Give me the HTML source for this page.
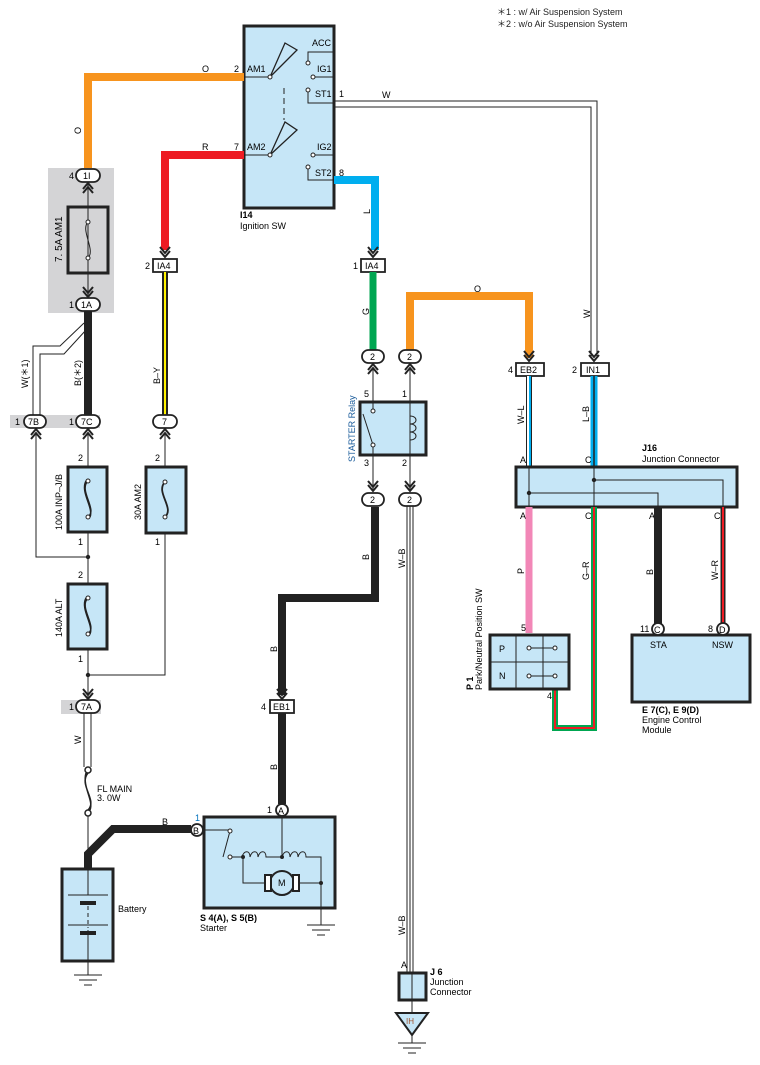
<!DOCTYPE html>
<html><head><meta charset="utf-8"><style>
html,body{margin:0;padding:0;background:#fff;width:760px;height:1065px;overflow:hidden}
svg{display:block;font-family:"Liberation Sans",sans-serif;font-size:9px}
.bx{fill:#c6e6f7;stroke:#222;stroke-width:3}
.tn{fill:none;stroke:#222;stroke-width:1}
.cn{fill:#fff;stroke:#222;stroke-width:1.8}
</style></head><body>
<svg width="760" height="1065" viewBox="0 0 760 1065" xmlns="http://www.w3.org/2000/svg">
<defs>
<g id="arrUp"><path d="M-5,7 L0,1 L5,7 M-5,11 L0,5 L5,11" fill="none" stroke="#222" stroke-width="2"/></g>
<g id="arrDn"><path d="M-5,-7 L0,-1 L5,-7 M-5,-11 L0,-5 L5,-11" fill="none" stroke="#222" stroke-width="2"/></g>
</defs>
<text x="497" y="15" fill="#222">＊1 : w/ Air Suspension System</text>
<text x="497" y="27" fill="#222">＊2 : w/o Air Suspension System</text>

<!-- gray shaded areas -->
<rect x="48" y="168" width="66" height="145" fill="#d4d4d6"/>
<rect x="10" y="415" width="90" height="13" fill="#d4d4d6"/>
<rect x="61" y="700" width="40" height="14" fill="#d4d4d6"/>

<!-- Ignition switch -->
<rect x="244" y="26" width="90" height="182" class="bx"/>
<text x="312" y="46">ACC</text><text x="317" y="72">IG1</text><text x="315" y="97">ST1</text>
<text x="247" y="72">AM1</text><text x="247" y="150">AM2</text>
<text x="317" y="150">IG2</text><text x="315" y="176">ST2</text>
<text x="234" y="72">2</text><text x="234" y="150">7</text><text x="339" y="97">1</text><text x="339" y="176">8</text>
<path d="M244,77H269 M244,155H269" class="tn"/>
<path d="M270,77 L285,43 L297,50 Z M270,155 L285,122 L297,130 Z" fill="none" stroke="#222" stroke-width="1.3"/>
<path d="M284,88V120" stroke="#222" stroke-dasharray="6,4"/>
<circle cx="270" cy="77" r="2" fill="#fff" stroke="#222"/><circle cx="270" cy="155" r="2" fill="#fff" stroke="#222"/>
<path d="M308,63V52H334 M313,77H334 M308,90V103H334 M313,155H334 M308,167V180H334" class="tn"/>
<g fill="#fff" stroke="#222"><circle cx="308" cy="63" r="2"/><circle cx="313" cy="77" r="2"/><circle cx="308" cy="90" r="2"/><circle cx="313" cy="155" r="2"/><circle cx="308" cy="167" r="2"/></g>
<text x="240" y="218" font-weight="bold">I14</text><text x="240" y="229">Ignition SW</text>

<!-- Orange AM1 wire -->
<path d="M244,77H88V168" fill="none" stroke="#f7941e" stroke-width="8"/>
<text x="202" y="72">O</text><text x="81" y="134" transform="rotate(-90 81 134)">O</text>
<!-- Red AM2 -->
<path d="M244,155H165V250" fill="none" stroke="#ed1c24" stroke-width="8"/>
<text x="202" y="150">R</text>
<use href="#arrDn" x="165" y="258"/>
<!-- Blue L -->
<path d="M334,180H375V250" fill="none" stroke="#00aeef" stroke-width="8"/>
<text x="370" y="214" transform="rotate(-90 370 214)">L</text>
<use href="#arrDn" x="373" y="258"/>
<!-- W from ST1 -->
<path d="M334,101H597V358 M334,107H591V358" class="tn"/>
<text x="382" y="98">W</text><text x="590" y="318" transform="rotate(-90 590 318)">W</text>
<use href="#arrDn" x="594" y="362"/>

<!-- 1I connector & AM1 fuse -->
<rect x="76" y="169" width="24" height="13" rx="6.5" class="cn"/><text x="83" y="179">1I</text><text x="69" y="179">4</text>
<use href="#arrUp" x="88" y="182"/>
<path d="M88,184V297" class="tn"/>
<rect x="68" y="207" width="40" height="66" fill="none" stroke="#222" stroke-width="3"/>
<path d="M88,222 C80,230 96,250 88,258" class="tn"/>
<circle cx="88" cy="222" r="2" fill="#fff" stroke="#222"/><circle cx="88" cy="258" r="2" fill="#fff" stroke="#222"/>
<text x="62" y="262" transform="rotate(-90 62 262)" font-size="10">7. 5A AM1</text>
<use href="#arrDn" x="88" y="298"/>
<rect x="76" y="298" width="24" height="13" rx="6.5" class="cn"/><text x="81" y="308">1A</text><text x="69" y="308">1</text>

<!-- B(*2) and W(*1) -->
<path d="M88,311V415" stroke="#222" stroke-width="8"/>
<text x="81" y="386" transform="rotate(-90 81 386)">B(＊2)</text>
<path d="M84,323 L60,346H33V415 M86,330 L64,354H40V415" class="tn"/>
<text x="28" y="388" transform="rotate(-90 28 388)">W(＊1)</text>
<rect x="24" y="415" width="22" height="13" rx="6.5" class="cn"/><text x="28" y="425">7B</text><text x="15" y="425">1</text>
<rect x="76" y="415" width="24" height="13" rx="6.5" class="cn"/><text x="81" y="425">7C</text><text x="69" y="425">1</text>
<use href="#arrUp" x="36" y="428"/><use href="#arrUp" x="88" y="428"/>
<path d="M36,432V557H88 M88,432V700" class="tn"/>
<circle cx="88" cy="557" r="2.2" fill="#222"/>

<!-- 100A INP-J/B -->
<rect x="68" y="467" width="39" height="65" class="bx"/>
<path d="M88,481 C78,490 98,510 88,517 M86,481 C80,492 94,508 90,517" fill="none" stroke="#222" stroke-width="1.5"/>
<circle cx="88" cy="481" r="2" fill="#fff" stroke="#222"/><circle cx="88" cy="517" r="2" fill="#fff" stroke="#222"/>
<text x="62" y="530" transform="rotate(-90 62 530)">100A INP–J/B</text>
<text x="78" y="461">2</text><text x="78" y="545">1</text>
<!-- 140A ALT -->
<rect x="68" y="584" width="39" height="65" class="bx"/>
<path d="M88,598 C78,607 98,627 88,634 M86,598 C80,609 94,625 90,634" fill="none" stroke="#222" stroke-width="1.5"/>
<circle cx="88" cy="598" r="2" fill="#fff" stroke="#222"/><circle cx="88" cy="634" r="2" fill="#fff" stroke="#222"/>
<text x="62" y="637" transform="rotate(-90 62 637)">140A ALT</text>
<text x="78" y="578">2</text><text x="78" y="662">1</text>
<circle cx="88" cy="675" r="2.2" fill="#222"/>
<path d="M88,675H165V432" class="tn"/>

<!-- B-Y and 30A AM2 -->
<rect x="153" y="259" width="24" height="13" fill="#fff" stroke="#222" stroke-width="1.8"/><text x="157" y="269">IA4</text><text x="145" y="269">2</text>
<path d="M165,272V415" stroke="#222" stroke-width="6"/><path d="M165,272V415" stroke="#fff200" stroke-width="2"/>
<text x="160" y="384" transform="rotate(-90 160 384)">B–Y</text>
<rect x="153" y="415" width="24" height="13" rx="6.5" class="cn"/><text x="162" y="425">7</text>
<use href="#arrUp" x="165" y="428"/>
<rect x="146" y="467" width="40" height="66" class="bx"/>
<path d="M165,482 C155,492 175,508 165,517" fill="none" stroke="#222" stroke-width="1.8"/>
<circle cx="165" cy="482" r="2" fill="#fff" stroke="#222"/><circle cx="165" cy="517" r="2" fill="#fff" stroke="#222"/>
<text x="141" y="520" transform="rotate(-90 141 520)">30A AM2</text>
<text x="155" y="461">2</text><text x="155" y="545">1</text>

<!-- 7A, W, FL MAIN -->
<use href="#arrDn" x="88" y="700"/>
<rect x="76" y="700" width="24" height="13" rx="6.5" class="cn"/><text x="81" y="710">7A</text><text x="69" y="710">1</text>
<path d="M84,713V767 M91,713V767" class="tn"/>
<text x="81" y="744" transform="rotate(-90 81 744)">W</text>
<circle cx="88" cy="770" r="3" fill="#fff" stroke="#222" stroke-width="1.5"/><circle cx="88" cy="813" r="3" fill="#fff" stroke="#222" stroke-width="1.5"/>
<path d="M88,773 C78,785 98,800 88,810 M86,773 C82,787 94,800 90,810" fill="none" stroke="#222" stroke-width="1.5"/>
<text x="97" y="792">FL MAIN</text><text x="97" y="801">3. 0W</text>
<path d="M88,816V852" class="tn"/>
<path d="M88,868V854 L113,829H191" fill="none" stroke="#222" stroke-width="8"/>
<text x="162" y="825">B</text>

<!-- Battery -->
<rect x="62" y="869" width="51" height="92" class="bx"/>
<path d="M88,869V895 M68,895H108 M68,925H108 M88,930V961 M88,961V975 M74,975H102 M79,980H97 M84,985H92" class="tn"/>
<rect x="80" y="901" width="16" height="4" fill="#222"/><rect x="80" y="931" width="16" height="4" fill="#222"/>
<path d="M88,906V928" stroke="#222" stroke-dasharray="4,3"/>
<text x="118" y="912">Battery</text>

<!-- Starter -->
<rect x="204" y="817" width="131" height="91" class="bx"/>
<circle cx="197" cy="830" r="6" class="cn"/><text x="193" y="834">B</text><text x="195" y="821" fill="#0072bc">1</text>
<circle cx="282" cy="810" r="6" class="cn"/><text x="278" y="814">A</text><text x="267" y="813">1</text>
<path d="M203,830H230 M223,857 L230,831 M230,857H242 M242,857 C244,850 250,850 250,857 C252,850 258,850 258,857 C260,850 266,850 266,857 L282,857 M282,816V857 M282,857 C284,850 290,850 290,857 C292,850 298,850 298,857 C300,850 306,850 306,857 L321,857V883 M243,857V883H265 M281,883H321 M321,883V925 M307,925H335 M312,930H330 M317,935H325" class="tn"/>
<circle cx="230" cy="831" r="2" fill="#fff" stroke="#222"/><circle cx="230" cy="857" r="2" fill="#fff" stroke="#222"/>
<circle cx="243" cy="857" r="2" fill="#222"/><circle cx="282" cy="857" r="2" fill="#222"/><circle cx="321" cy="883" r="2" fill="#222"/>
<circle cx="282" cy="883" r="12" fill="#c6e6f7" stroke="#222" stroke-width="2"/>
<rect x="265" y="875" width="6" height="16" fill="#fff" stroke="#222" stroke-width="2"/><rect x="293" y="875" width="6" height="16" fill="#fff" stroke="#222" stroke-width="2"/>
<text x="278" y="886">M</text>
<text x="200" y="921" font-weight="bold">S 4(A), S 5(B)</text><text x="200" y="931">Starter</text>
<path d="M282,710V804" stroke="#222" stroke-width="8"/>
<text x="277" y="770" transform="rotate(-90 277 770)">B</text>

<!-- Black B from relay -->
<path d="M375,507V598H282V695" fill="none" stroke="#222" stroke-width="8"/>
<text x="369" y="560" transform="rotate(-90 369 560)">B</text>
<text x="277" y="652" transform="rotate(-90 277 652)">B</text>
<use href="#arrDn" x="282" y="700"/>
<rect x="270" y="700" width="24" height="13" fill="#fff" stroke="#222" stroke-width="1.8"/><text x="273" y="710">EB1</text><text x="261" y="710">4</text>

<!-- IA4 green -->
<rect x="361" y="259" width="24" height="13" fill="#fff" stroke="#222" stroke-width="1.8"/><text x="365" y="269">IA4</text><text x="353" y="269">1</text>
<path d="M373,272V350" stroke="#00a651" stroke-width="7"/>
<text x="369" y="315" transform="rotate(-90 369 315)">G</text>
<path d="M410,350V296H529V358" fill="none" stroke="#f7941e" stroke-width="8"/>
<text x="474" y="292">O</text>
<use href="#arrDn" x="529" y="362"/>
<!-- relay connectors -->
<rect x="362" y="350" width="22" height="13" rx="6.5" class="cn"/><text x="370" y="360">2</text>
<rect x="399" y="350" width="22" height="13" rx="6.5" class="cn"/><text x="407" y="360">2</text>
<use href="#arrUp" x="373" y="363"/><use href="#arrUp" x="410" y="363"/>
<rect x="360" y="402" width="66" height="53" class="bx"/>
<path d="M373,367V412 M373,445V490 M410,367V490 M363,414 L373,445" class="tn"/>
<circle cx="373" cy="411" r="2" fill="#fff" stroke="#222"/><circle cx="373" cy="445" r="2" fill="#fff" stroke="#222"/>
<path d="M410,416 C418,416 418,424 410,424 C418,424 418,432 410,432 C418,432 418,440 410,440" class="tn"/>
<text x="364" y="397">5</text><text x="402" y="397">1</text><text x="364" y="466">3</text><text x="402" y="466">2</text>
<text x="355" y="462" transform="rotate(-90 355 462)" fill="#1b5c9b">STARTER Relay</text>
<use href="#arrDn" x="373" y="492"/><use href="#arrDn" x="410" y="492"/>
<rect x="362" y="493" width="22" height="13" rx="6.5" class="cn"/><text x="370" y="503">2</text>
<rect x="399" y="493" width="22" height="13" rx="6.5" class="cn"/><text x="407" y="503">2</text>
<!-- W-B -->
<path d="M407,506V972 M410,506V972 M413,506V972" class="tn"/>
<text x="405" y="568" transform="rotate(-90 405 568)">W–B</text>
<text x="405" y="935" transform="rotate(-90 405 935)">W–B</text>
<text x="401" y="968">A</text>
<rect x="399" y="973" width="27" height="27" class="bx"/>
<path d="M412,973V1013" class="tn"/>
<text x="430" y="975" font-weight="bold">J 6</text><text x="430" y="985">Junction</text><text x="430" y="995">Connector</text>
<path d="M396,1013H428L412,1035Z" fill="#c6e6f7" stroke="#222" stroke-width="2"/>
<text x="406" y="1024" fill="#a0522d" font-size="8">IH</text>
<path d="M412,1035V1043 M398,1043H426 M403,1048H421 M408,1053H416" class="tn"/>

<!-- EB2 / IN1 -->
<rect x="516" y="363" width="28" height="13" fill="#fff" stroke="#222" stroke-width="1.8"/><text x="520" y="373">EB2</text><text x="508" y="373">4</text>
<rect x="581" y="363" width="28" height="13" fill="#fff" stroke="#222" stroke-width="1.8"/><text x="586" y="373">IN1</text><text x="572" y="373">2</text>
<path d="M529,376V467" stroke="#222" stroke-width="6"/><path d="M529,376V467" stroke="#fff" stroke-width="4"/><path d="M530,376V467" stroke="#00aeef" stroke-width="2"/>
<path d="M594,376V467" stroke="#00aeef" stroke-width="7"/><path d="M594,376V467" stroke="#222" stroke-width="1.5"/>
<text x="524" y="424" transform="rotate(-90 524 424)">W–L</text>
<text x="589" y="422" transform="rotate(-90 589 422)">L–B</text>
<text x="520" y="463">A</text><text x="585" y="463">C</text>
<!-- J16 -->
<rect x="516" y="467" width="221" height="40" class="bx"/>
<path d="M529,467V507 M529,493H658V507 M594,467V507 M594,480H723V507" class="tn"/>
<circle cx="529" cy="493" r="2.2" fill="#222"/><circle cx="594" cy="480" r="2.2" fill="#222"/>
<text x="642" y="451" font-weight="bold">J16</text><text x="642" y="462">Junction Connector</text>
<text x="520" y="519">A</text><text x="585" y="519">C</text><text x="649" y="519">A</text><text x="714" y="519">C</text>
<!-- below J16 -->
<path d="M529,507V633" stroke="#f287b7" stroke-width="7"/>
<text x="524" y="574" transform="rotate(-90 524 574)">P</text>
<path d="M594,507V728H555V689" fill="none" stroke="#00a651" stroke-width="6"/>
<path d="M594,507V728H555V689" fill="none" stroke="#ed1c24" stroke-width="2"/>
<text x="589" y="580" transform="rotate(-90 589 580)">G–R</text>
<path d="M658,507V624" stroke="#222" stroke-width="8"/>
<text x="653" y="575" transform="rotate(-90 653 575)">B</text>
<path d="M723,507V624" stroke="#222" stroke-width="5"/><path d="M723,507V624" stroke="#ed1c24" stroke-width="2"/>
<text x="718" y="580" transform="rotate(-90 718 580)">W–R</text>
<!-- P1 -->
<rect x="490" y="635" width="79" height="54" class="bx"/>
<path d="M490,662H569 M516,635V689 M543,635V689 M529,648H555 M529,676H555" class="tn"/>
<g fill="#fff" stroke="#222"><circle cx="529" cy="648" r="2"/><circle cx="555" cy="648" r="2"/><circle cx="529" cy="676" r="2"/><circle cx="555" cy="676" r="2"/></g>
<text x="499" y="652">P</text><text x="499" y="679">N</text>
<text x="521" y="631">5</text><text x="547" y="699">4</text>
<text x="473" y="690" transform="rotate(-90 473 690)" font-weight="bold">P 1</text>
<text x="482" y="690" transform="rotate(-90 482 690)">Park/Neutral Position SW</text>
<!-- ECM -->
<rect x="632" y="635" width="118" height="67" class="bx"/>
<circle cx="658" cy="629" r="6" class="cn"/><text x="654" y="633">C</text><text x="640" y="632">11</text>
<circle cx="723" cy="629" r="6" class="cn"/><text x="719" y="633">D</text><text x="708" y="632">8</text>
<text x="650" y="648">STA</text><text x="712" y="648">NSW</text>
<text x="642" y="713" font-weight="bold">E 7(C), E 9(D)</text><text x="642" y="723">Engine Control</text><text x="642" y="733">Module</text>
</svg>
</body></html>
